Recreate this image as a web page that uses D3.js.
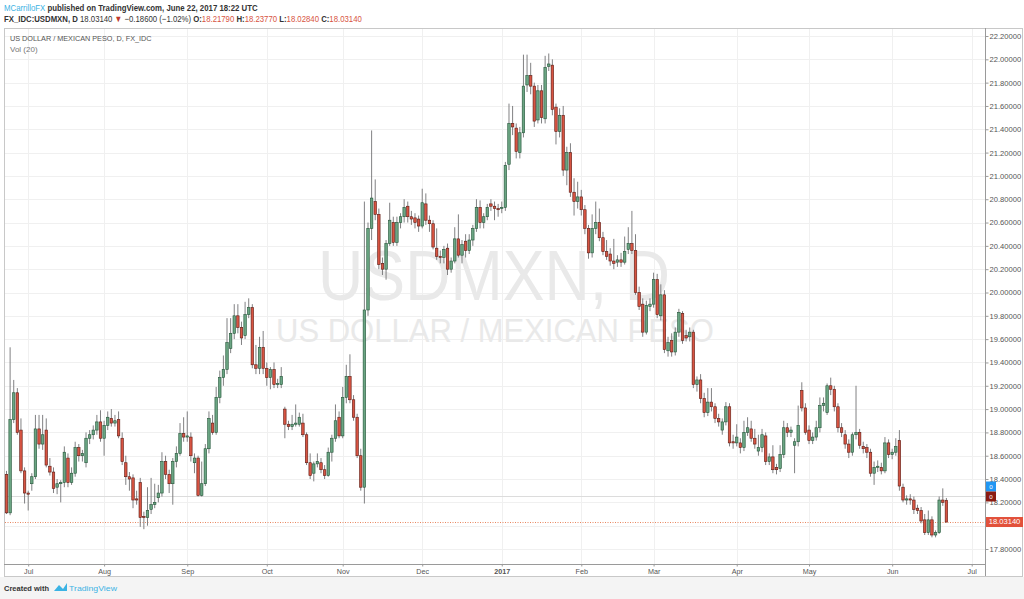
<!DOCTYPE html>
<html><head><meta charset="utf-8">
<script src="https://cdn.jsdelivr.net/npm/d3@7"></script>
<style>
body{margin:0;background:#fff;}
svg{display:block;font-family:"Liberation Sans",Arial,sans-serif;}
</style>
</head><body>
<svg id="c" width="1024" height="599"></svg>
<script>
// ---- DATA (daily OHLC, USD/MXN, Jun 23 2016 .. Jun 22 2017) ----
const startDate = "2016-06-23";
const opens = [18.44,18.11,18.91,19.14,18.82,18.47,18.28,18.36,18.42,18.83,18.70,18.82,18.51,18.46,18.33,18.36,18.37,18.58,18.37,18.45,
18.67,18.60,18.54,18.75,18.78,18.82,18.89,18.75,18.86,18.92,18.88,18.91,18.75,18.54,18.42,18.41,18.23,18.37,18.08,18.07,
18.14,18.18,18.24,18.28,18.55,18.44,18.36,18.55,18.62,18.79,18.76,18.76,18.54,18.58,18.26,18.36,18.66,18.88,18.80,19.10,
19.27,19.34,19.52,19.65,19.80,19.70,19.63,19.81,19.87,19.38,19.35,19.53,19.35,19.27,19.34,19.21,19.21,19.00,18.87,18.85,
18.87,18.87,18.88,18.78,18.54,18.45,18.53,18.54,18.48,18.43,18.63,18.75,18.93,18.77,19.10,19.28,19.08,18.93,18.60,18.33,
19.85,20.55,20.78,20.67,20.25,20.20,20.42,20.60,20.43,20.60,20.65,20.74,20.65,20.64,20.63,20.57,20.76,20.62,20.59,20.38,
20.31,20.30,20.38,20.20,20.27,20.46,20.32,20.44,20.36,20.45,20.55,20.73,20.60,20.65,20.76,20.74,20.72,20.72,20.73,21.10,
21.45,21.41,21.20,21.37,21.78,21.86,21.77,21.48,21.73,21.49,21.94,21.95,21.59,21.38,21.52,21.05,21.20,20.86,20.78,20.82,
20.71,20.55,20.34,20.55,20.60,20.47,20.35,20.33,20.27,20.26,20.28,20.26,20.37,20.42,20.36,20.00,19.90,19.66,19.88,19.90,
20.11,19.80,19.98,19.50,19.59,19.49,19.66,19.82,19.63,19.62,19.66,19.21,19.25,19.09,18.97,19.06,19.02,18.92,18.82,18.89,
19.02,18.72,18.71,18.71,18.67,18.80,18.83,18.75,18.64,18.67,18.77,18.55,18.59,18.50,18.49,18.61,18.84,18.80,18.69,18.72,
19.16,19.01,18.82,18.73,18.76,18.84,19.03,18.97,19.20,19.17,19.02,18.84,18.78,18.70,18.63,18.78,18.80,18.68,18.67,18.63,
18.45,18.50,18.50,18.47,18.71,18.61,18.63,18.73,18.33,18.22,18.23,18.22,18.15,18.13,18.05,17.94,18.05,17.92,17.94,18.22,
18.2179];
const highs = [18.47,19.53,19.25,19.18,18.92,18.50,18.30,18.45,18.95,18.95,18.95,18.92,18.58,18.50,18.40,18.39,18.68,18.62,18.50,18.72,
18.70,18.65,18.80,18.82,18.86,18.95,18.99,18.90,18.98,19.00,18.95,18.98,18.80,18.60,18.46,18.44,18.30,18.41,18.12,18.33,
18.41,18.36,18.35,18.63,18.60,18.48,18.58,18.68,18.88,18.93,18.98,18.80,18.62,18.60,18.55,18.70,18.98,18.95,19.19,19.33,
19.46,19.78,19.78,19.90,19.90,19.75,19.92,19.95,19.90,19.55,19.62,19.67,19.40,19.36,19.40,19.26,19.36,19.02,18.90,18.95,
19.04,18.97,18.96,18.80,18.62,18.55,18.62,18.58,18.52,18.67,18.78,19.04,18.98,19.19,19.38,19.47,19.12,18.96,18.66,20.78,
20.60,21.39,20.97,20.72,20.30,20.45,20.77,20.65,20.65,20.68,20.80,20.78,20.70,20.68,20.66,20.89,20.85,20.66,20.62,20.55,
20.36,20.40,20.42,20.30,20.56,20.67,20.45,20.50,20.50,20.58,20.80,20.79,20.68,20.76,20.80,20.78,20.76,20.78,21.12,21.62,
21.60,21.45,21.42,22.04,22.04,21.97,21.80,21.78,21.78,22.03,22.05,22.00,21.62,21.58,21.60,21.25,21.28,20.98,20.95,20.88,
20.75,20.58,20.67,20.78,20.72,20.52,20.45,20.38,20.46,20.32,20.34,20.48,20.56,20.70,20.50,20.05,19.95,19.93,19.95,20.17,
20.16,20.07,20.02,19.62,19.65,19.70,19.86,19.84,19.68,19.70,19.68,19.28,19.30,19.14,19.18,19.18,19.05,18.96,18.92,19.06,
19.05,18.78,18.87,18.75,18.90,18.93,18.90,18.83,18.78,18.83,18.80,18.62,18.69,18.53,18.69,18.90,18.88,18.85,18.75,19.03,
19.23,19.05,18.86,18.80,18.90,19.10,19.10,19.22,19.27,19.20,19.05,18.88,18.82,18.74,18.80,19.20,18.83,18.72,18.70,18.66,
18.55,18.56,18.54,18.76,18.74,18.66,18.75,18.82,18.36,18.26,18.27,18.25,18.18,18.16,18.10,18.13,18.08,17.96,18.25,18.32,
18.2377];
const lows = [18.10,18.09,18.88,18.78,18.45,18.19,18.13,18.30,18.40,18.66,18.65,18.50,18.43,18.28,18.27,18.20,18.33,18.33,18.35,18.42,
18.55,18.55,18.50,18.70,18.74,18.78,18.72,18.60,18.82,18.85,18.85,18.75,18.52,18.35,18.30,18.15,18.18,17.99,17.97,18.00,
18.10,18.15,18.20,18.25,18.40,18.28,18.18,18.50,18.60,18.72,18.72,18.55,18.45,18.25,18.25,18.34,18.62,18.78,18.78,19.05,
19.20,19.30,19.48,19.60,19.65,19.55,19.60,19.78,19.35,19.30,19.30,19.30,19.20,19.17,19.18,19.18,19.18,18.75,18.82,18.82,
18.85,18.85,18.76,18.52,18.40,18.38,18.50,18.45,18.40,18.42,18.55,18.72,18.75,18.75,19.05,19.05,18.90,18.58,18.30,18.19,
19.80,20.45,20.62,20.20,20.15,20.11,20.40,20.40,20.40,20.55,20.60,20.60,20.58,20.55,20.52,20.55,20.58,20.52,20.37,20.28,
20.25,20.25,20.15,20.17,20.25,20.30,20.25,20.30,20.33,20.40,20.52,20.55,20.55,20.62,20.70,20.62,20.65,20.68,20.70,21.05,
21.35,21.15,21.15,21.33,21.72,21.70,21.42,21.45,21.45,21.45,21.90,21.52,21.27,21.33,21.00,20.92,20.82,20.66,20.72,20.66,
20.50,20.29,20.30,20.50,20.44,20.32,20.28,20.23,20.20,20.22,20.22,20.24,20.33,20.33,19.98,19.85,19.62,19.64,19.84,19.87,
19.78,19.76,19.48,19.45,19.45,19.46,19.62,19.56,19.58,19.58,19.18,19.15,19.05,18.93,18.94,18.98,18.88,18.85,18.78,18.86,
18.68,18.66,18.68,18.62,18.64,18.77,18.72,18.66,18.60,18.63,18.52,18.52,18.45,18.44,18.46,18.58,18.76,18.76,18.45,18.68,
18.98,18.78,18.70,18.70,18.73,18.80,18.98,18.95,19.12,18.98,18.80,18.76,18.66,18.58,18.60,18.74,18.66,18.62,18.58,18.42,
18.35,18.46,18.44,18.45,18.58,18.57,18.60,18.30,18.20,18.18,18.18,18.10,18.10,18.02,17.92,17.92,17.90,17.90,17.93,18.17,
18.0284];
const closes = [18.11,18.91,19.14,18.80,18.47,18.28,18.27,18.42,18.83,18.70,18.78,18.52,18.46,18.32,18.36,18.37,18.63,18.37,18.45,18.67,
18.60,18.62,18.75,18.78,18.82,18.89,18.75,18.86,18.93,18.88,18.90,18.77,18.55,18.42,18.40,18.22,18.22,18.07,18.07,18.13,
18.18,18.20,18.28,18.55,18.44,18.36,18.55,18.62,18.79,18.76,18.77,18.60,18.58,18.26,18.36,18.66,18.92,18.80,19.10,19.27,
19.34,19.57,19.65,19.80,19.70,19.61,19.81,19.87,19.38,19.35,19.53,19.35,19.27,19.34,19.21,19.22,19.28,18.87,18.85,18.87,
18.88,18.93,18.78,18.54,18.43,18.53,18.55,18.48,18.43,18.63,18.75,18.90,18.77,19.10,19.28,19.08,18.93,18.60,18.33,19.85,
20.55,20.81,20.67,20.24,20.20,20.42,20.62,20.43,20.60,20.65,20.73,20.65,20.63,20.60,20.57,20.77,20.62,20.59,20.39,20.31,
20.30,20.37,20.20,20.27,20.46,20.32,20.41,20.36,20.45,20.55,20.73,20.60,20.65,20.73,20.74,20.72,20.71,20.73,21.09,21.45,
21.42,21.21,21.37,21.77,21.86,21.77,21.47,21.73,21.50,21.93,21.96,21.57,21.38,21.52,21.05,21.20,20.86,20.78,20.82,20.71,
20.55,20.34,20.55,20.60,20.47,20.35,20.31,20.27,20.25,20.28,20.26,20.35,20.42,20.36,20.00,19.88,19.66,19.89,19.90,20.11,
19.81,19.98,19.51,19.57,19.49,19.66,19.83,19.59,19.61,19.66,19.21,19.25,19.09,18.97,19.06,19.02,18.92,18.89,18.89,19.02,
18.71,18.71,18.76,18.67,18.80,18.84,18.75,18.70,18.67,18.78,18.55,18.59,18.48,18.48,18.61,18.84,18.80,18.82,18.72,18.86,
19.01,18.80,18.73,18.76,18.84,19.03,19.05,19.20,19.17,19.02,18.84,18.80,18.70,18.63,18.78,18.80,18.69,18.66,18.63,18.45,
18.50,18.51,18.47,18.71,18.61,18.63,18.68,18.34,18.22,18.23,18.22,18.14,18.13,18.04,17.94,18.05,17.92,17.94,18.22,18.20,
18.0314];
const monthLabels = ["Jul","Aug","Sep","Oct","Nov","Dec","2017","Feb","Mar","Apr","May","Jun","Jul"];
const priceTicks = [17.8,18.0,18.2,18.4,18.6,18.8,19.0,19.2,19.4,19.6,19.8,20.0,20.2,20.4,20.6,20.8,21.0,21.2,21.4,21.6,21.8,22.0,22.2];
const lastPrice = 18.03140;

// ---- LAYOUT ----
const svg = d3.select("#c");
const P = {l:4, t:28, r:985, b:564};
const N = closes.length;

const dates = [];
{ const s = startDate.split("-").map(Number); let d = new Date(Date.UTC(s[0], s[1]-1, s[2]));
  while (dates.length < N + 12) { const wd = d.getUTCDay(); if (wd !== 0 && wd !== 6) dates.push(new Date(d)); d.setUTCDate(d.getUTCDate()+1); } }
const monthIdx = [];
for (let i = 1; i < dates.length; i++) if (dates[i].getUTCMonth() !== dates[i-1].getUTCMonth()) monthIdx.push(i);

const x = d3.scaleLinear().domain([0, N-1]).range([6.5, 946.4]);
const y = d3.scaleLinear().domain([17.8, 22.2]).range([549, 36]);

const upFill="#6ba583", upStroke="#225437", dnFill="#d75442", dnStroke="#5b1a13", wickC="#737375";

function fit(sel, x0, y0, w){
  const len = sel.node().getComputedTextLength();
  sel.attr("x",0).attr("y",0).attr("transform",`translate(${x0},${y0}) scale(${w/len},1)`);
  return sel;
}

svg.append("rect").attr("x",0).attr("y",0).attr("width",1024).attr("height",599).attr("fill","#fff");
svg.append("rect").attr("x",0).attr("y",577).attr("width",1024).attr("height",22).attr("fill","#f4f4f4");

// header
const h1 = svg.append("text").attr("font-size",9).attr("font-weight","bold").attr("fill","#333");
h1.append("tspan").attr("fill","#3bb3e4").attr("font-weight","normal").text("MCarrilloFX");
h1.append("tspan").text(" published on TradingView.com, June 22, 2017 18:22 UTC");
fit(h1, 4, 10.5, 254);
const h2 = svg.append("text").attr("font-size",9).attr("fill","#333");
[["FX_IDC:USDMXN, D  ","#333","bold"],["18.03140 ","#333","normal"],["\u25BC","#c0392b","normal"],[" \u22120.18600 (\u22121.02%) ","#333","normal"],
 ["O:","#333","bold"],["18.21790","#d75442","normal"],[" H:","#333","bold"],["18.23770","#d75442","normal"],
 [" L:","#333","bold"],["18.02840","#d75442","normal"],[" C:","#333","bold"],["18.03140","#d75442","normal"]]
 .forEach(s => h2.append("tspan").attr("fill",s[1]).attr("font-weight",s[2]).text(s[0]));
fit(h2, 4, 21.5, 358);

// frame
svg.append("rect").attr("x",P.l+0.5).attr("y",P.t+0.5).attr("width",1022-P.l).attr("height",P.b-P.t+12)
  .attr("fill","none").attr("stroke","#c8c8c8");

// grid
const g = svg.append("g");
g.selectAll("line.h").data(priceTicks).join("line").attr("x1",P.l+1).attr("x2",P.r)
  .attr("y1",d=>Math.round(y(d))+0.5).attr("y2",d=>Math.round(y(d))+0.5).attr("stroke","#f0f0f0");
g.selectAll("line.v").data(monthIdx).join("line").attr("y1",P.t+1).attr("y2",P.b)
  .attr("x1",d=>Math.round(x(d))+0.5).attr("x2",d=>Math.round(x(d))+0.5).attr("stroke","#f0f0f0");

// watermark
fit(svg.append("text").attr("font-size",70).attr("fill","#e9e9e9").text("USDMXN, D"), 318, 300, 352);
fit(svg.append("text").attr("font-size",34).attr("fill","#e9e9e9").text("US DOLLAR / MEXICAN PESO"), 276, 342, 438);

// legend
fit(svg.append("text").attr("font-size",8).attr("fill","#555").text("US DOLLAR / MEXICAN PESO, D, FX_IDC"), 10, 41, 142);
svg.append("text").attr("x",10).attr("y",52).attr("font-size",8).attr("fill","#777").text("Vol (20)");

// volume zero line
svg.append("line").attr("x1",P.l+1).attr("x2",P.r).attr("y1",496.5).attr("y2",496.5).attr("stroke","#dcdcdc");

// last price line
svg.append("line").attr("x1",P.l+1).attr("x2",P.r).attr("y1",Math.round(y(lastPrice))+0.5).attr("y2",Math.round(y(lastPrice))+0.5)
  .attr("stroke","#e8865f").attr("stroke-dasharray","1,1.5");

// candles
const data = closes.map((c,i)=>({i,o:opens[i],h:highs[i],l:lows[i],c}));
const cg = svg.append("g");
cg.selectAll("line.w").data(data).join("line").attr("x1",d=>x(d.i)).attr("x2",d=>x(d.i))
  .attr("y1",d=>y(d.h)).attr("y2",d=>y(d.l)).attr("stroke",wickC).attr("stroke-width",0.9);
cg.selectAll("rect.b").data(data).join("rect")
  .attr("x",d=>x(d.i)-1.25).attr("width",2.5)
  .attr("y",d=>y(Math.max(d.o,d.c)))
  .attr("height",d=>Math.max(0.8, Math.abs(y(d.o)-y(d.c))))
  .attr("fill",d=>d.c>=d.o?upFill:dnFill).attr("stroke",d=>d.c>=d.o?upStroke:dnStroke).attr("stroke-width",0.6);

// right axis (the 18.00000 label sits under the last-price tag)
const ay = svg.append("g").attr("transform",`translate(${P.r+0.5},0)`)
  .call(d3.axisRight(y).tickValues(priceTicks).tickFormat(d => Math.abs(d-18.0)<1e-9 ? "" : d3.format(".5f")(d)).tickSize(3).tickSizeOuter(0));
ay.select(".domain").attr("stroke","#9a9a9a").attr("d",`M0,${P.t}V${P.b+12}`);
ay.selectAll(".tick line").attr("stroke","#9a9a9a");
ay.selectAll(".tick text").attr("x",4).attr("fill","#555").attr("font-size",7.6).attr("font-family","Liberation Sans, Arial");

// bottom axis
const ax = svg.append("g").attr("transform",`translate(0,${P.b+0.5})`)
  .call(d3.axisBottom(x).tickValues(monthIdx).tickFormat((d,k)=>monthLabels[k]).tickSize(2).tickSizeOuter(0));
ax.select(".domain").attr("stroke","#9a9a9a").attr("d",`M${P.l},0H${P.r}`);
ax.selectAll(".tick line").attr("stroke","#9a9a9a");
ax.selectAll(".tick text").attr("y",4).attr("fill","#555").attr("font-size",7.2).attr("font-family","Liberation Sans, Arial")
  .attr("font-weight",(d,k)=>monthLabels[k]==="2017"?"bold":"normal");

// axis price tags
function tag(yc, w, fill, txt, fs){
  svg.append("rect").attr("x",P.r+1).attr("y",yc-5).attr("width",w).attr("height",10).attr("fill",fill);
  svg.append("text").attr("x",P.r+1+w/2).attr("y",yc+2.4).attr("text-anchor","middle").attr("font-size",fs).attr("fill","#fff").text(txt);
}
tag(486.5, 10, "#2196f3", "0", 6.2);
tag(496.5, 10, "#8b1c13", "0", 6.2);
tag(y(lastPrice), 37, "#e2513b", "18.03140", 7.6);

// footer
fit(svg.append("text").attr("font-size",8).attr("font-weight","bold").attr("fill","#333").text("Created with"), 4, 591, 45);
const logo = svg.append("g").attr("transform","translate(54,583)");
logo.append("path").attr("d","M0,8 L5,2 L9,6 L13,0 L13,8 Z").attr("fill","#3bb3e4");
fit(svg.append("text").attr("font-size",8).attr("fill","#3bb3e4").text("TradingView"), 69, 591, 48);
</script>
</body></html>
